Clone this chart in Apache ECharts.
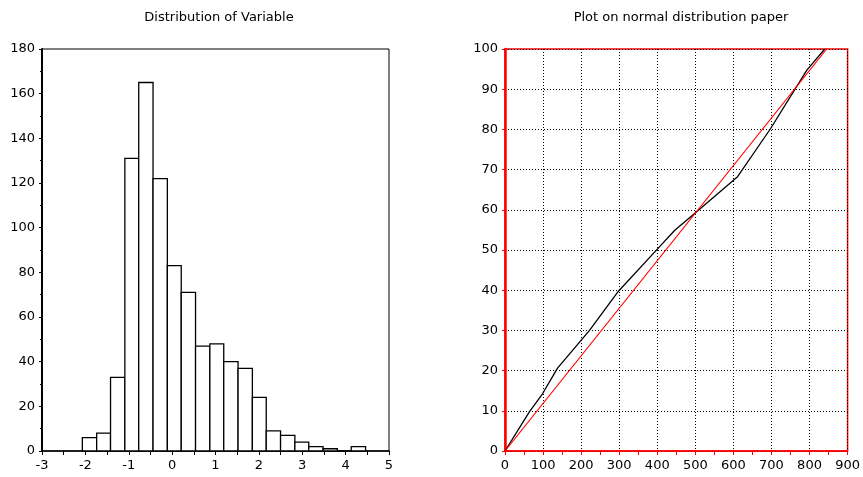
<!DOCTYPE html>
<html>
<head>
<meta charset="utf-8">
<script src="https://cdn.jsdelivr.net/npm/echarts@6/dist/echarts.min.js"></script>
<style>html,body{margin:0;padding:0;background:#fff}#c{width:863px;height:477px}</style>
</head>
<body>
<div id="c"></div>
<script>
// Histogram (left)
var binEdges = [-2.07, -1.74, -1.42, -1.09, -0.77, -0.44, -0.11, 0.21, 0.54, 0.87, 1.19, 1.52, 1.85, 2.17, 2.50, 2.83, 3.15, 3.48, 3.81, 4.13, 4.46];
var binCounts = [6, 8, 33, 131, 165, 122, 83, 71, 47, 48, 40, 37, 24, 9, 7, 4, 2, 1, 0, 2];
// Normal paper plot (right)
var obsX = [0, 64, 99, 138, 222, 298, 402, 446, 498, 611, 697, 793, 840];
var obsY = [0, 9.75, 14.3, 20.6, 30, 39.75, 50.4, 54.9, 59.1, 68.25, 80.1, 94.75, 100];
var refX = [0, 845];
var refY = [0, 100];

var FONT = 'DejaVu Sans';
var histData = [];
for (var i = 0; i < binCounts.length; i++) histData.push([binEdges[i], binEdges[i + 1], binCounts[i]]);
var obsData = obsX.map(function (x, i) { return [x, obsY[i]]; });
var refData = refX.map(function (x, i) { return [x, refY[i]]; });

var chart = echarts.init(document.getElementById('c'), null, {renderer: 'canvas'});
var lbl = {color: '#000', fontFamily: FONT, fontSize: 13};
chart.setOption({
  animation: false,
  title: [
    {text: 'Distribution of Variable', left: 214, top: 6, textAlign: 'center',
     textStyle: {fontFamily: FONT, fontSize: 13, fontWeight: 'normal', color: '#000'}},
    {text: 'Plot on normal distribution paper', left: 676, top: 6, textAlign: 'center',
     textStyle: {fontFamily: FONT, fontSize: 13, fontWeight: 'normal', color: '#000'}}
  ],
  grid: [
    {left: 42, top: 49, width: 347, height: 402, show: true, borderColor: '#000', borderWidth: 1, backgroundColor: 'transparent'},
    {left: 505, top: 49, width: 346, height: 402, show: true, borderColor: '#f00', borderWidth: 1.5, backgroundColor: 'transparent'}
  ],
  xAxis: [
    {type: 'value', gridIndex: 0, min: -3, max: 5, interval: 1,
     axisLine: {show: true, onZero: false, lineStyle: {color: '#000', width: 1.5}},
     axisTick: {show: true, length: 4, lineStyle: {color: '#000', width: 1}},
     minorTick: {show: true, splitNumber: 2, length: 4, lineStyle: {color: '#000', width: 1}},
     splitLine: {show: false}, axisLabel: Object.assign({margin: 8}, lbl)},
    {type: 'value', gridIndex: 1, min: 0, max: 900, interval: 100,
     axisLine: {show: true, onZero: false, lineStyle: {color: '#f00', width: 1.5}},
     axisTick: {show: true, length: 4, lineStyle: {color: '#f00', width: 1}},
     minorTick: {show: true, splitNumber: 2, length: 4, lineStyle: {color: '#f00', width: 1}},
     splitLine: {show: true, lineStyle: {color: '#000', width: 1, type: [1, 2]}},
     axisLabel: Object.assign({margin: 8}, lbl)}
  ],
  yAxis: [
    {type: 'value', gridIndex: 0, min: 0, max: 180, interval: 20,
     axisLine: {show: true, onZero: false, lineStyle: {color: '#000', width: 2}},
     axisTick: {show: true, length: 3, lineStyle: {color: '#000', width: 1}},
     minorTick: {show: true, splitNumber: 2, length: 2, lineStyle: {color: '#000', width: 1}},
     splitLine: {show: false}, axisLabel: Object.assign({margin: 7}, lbl)},
    {type: 'value', gridIndex: 1, min: 0, max: 100, interval: 10,
     axisLine: {show: true, onZero: false, lineStyle: {color: '#f00', width: 2.5}},
     axisTick: {show: true, length: 3, lineStyle: {color: '#f00', width: 1}},
     splitLine: {show: true, lineStyle: {color: '#000', width: 1, type: [1, 2]}},
     axisLabel: Object.assign({margin: 7}, lbl)}
  ],
  series: [
    {type: 'custom', xAxisIndex: 0, yAxisIndex: 0, data: histData,
     encode: {x: [0, 1], y: 2},
     renderItem: function (params, api) {
       var p0 = api.coord([api.value(0), api.value(2)]);
       var p1 = api.coord([api.value(1), 0]);
       return {type: 'rect',
         shape: {x: p0[0], y: p0[1], width: p1[0] - p0[0], height: p1[1] - p0[1]},
         style: {fill: '#fff', stroke: '#000', lineWidth: 1.3}};
     }},
    {type: 'line', xAxisIndex: 1, yAxisIndex: 1, data: obsData, showSymbol: false, symbol: 'none',
     lineStyle: {color: '#000', width: 1.3}, clip: true},
    {type: 'line', xAxisIndex: 1, yAxisIndex: 1, data: refData, showSymbol: false, symbol: 'none',
     lineStyle: {color: '#f00', width: 1.2}, clip: true}
  ]
});
</script>
</body>
</html>
